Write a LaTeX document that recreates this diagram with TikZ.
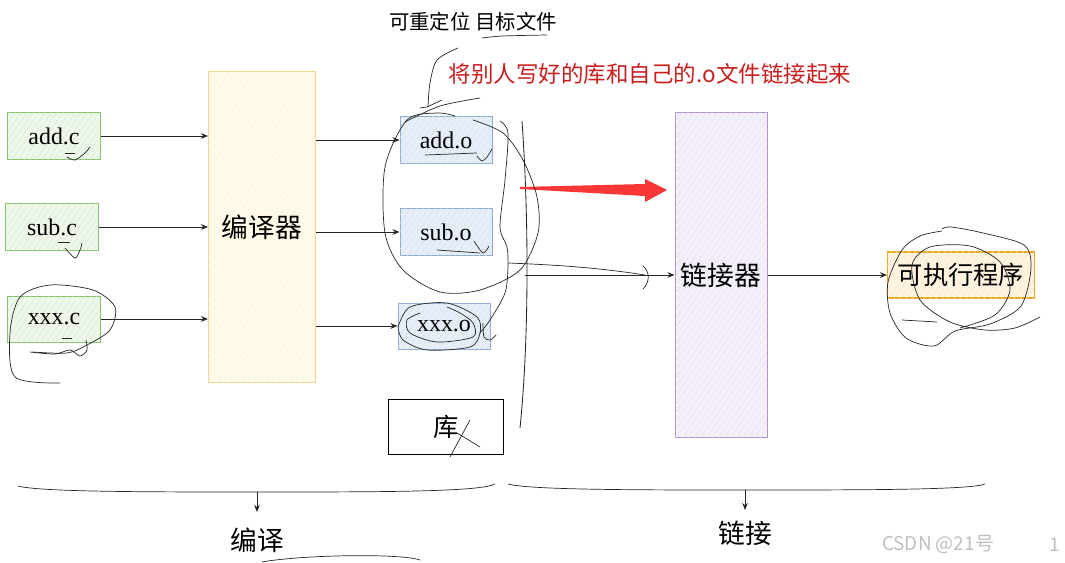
\documentclass[tikz,border=0pt]{standalone}
\usepackage{fontspec}
\setmainfont{Liberation Serif}
\newfontfamily\cjk{Noto Sans CJK SC}
\usetikzlibrary{arrows.meta}
\usetikzlibrary{patterns.meta}
\usetikzlibrary{positioning}

\definecolor{srcline}{RGB}{130,195,110}
\definecolor{srcfill}{RGB}{238,247,234}
\definecolor{compline}{RGB}{238,212,140}
\definecolor{compfill}{RGB}{255,251,232}
\definecolor{objline}{RGB}{140,170,212}
\definecolor{objfill}{RGB}{230,238,247}
\definecolor{linkline}{RGB}{175,145,205}
\definecolor{linkfill}{RGB}{244,240,249}
\definecolor{exeline}{RGB}{228,170,30}
\definecolor{exefill}{RGB}{255,243,225}
\definecolor{noteRed}{RGB}{200,30,30}
\definecolor{bigArrow}{RGB}{250,55,55}

\begin{document}
\begin{tikzpicture}[x=0.025cm, y=-0.025cm, >={Stealth[length=5pt,width=4pt]}]
    \tikzset{
        every node/.style={inner sep=0pt},
        hatch/.style={postaction={pattern={Lines[angle=55, distance=3.5pt, line width=0.3pt]}, pattern color=#1}},
        srcfile/.style={draw=srcline, fill=srcfill, hatch=srcline!35, line width=0.7pt, minimum width=2.3cm, minimum height=1.15cm, font=\fontsize{17}{17}\selectfont},
        objfile/.style={draw=objline, fill=objfill, hatch=objline!35, line width=0.7pt, minimum width=2.3cm, minimum height=1.15cm, font=\fontsize{17}{17}\selectfont},
        tool/.style={line width=0.7pt, font=\cjk\fontsize{19}{19}\selectfont},
        scribble/.style={black!85, line width=0.5pt},
        conn/.style={->, black!85, line width=0.6pt}
    }
    \useasboundingbox (0,0) rectangle (1065,563);

    % source files and compiler
    \foreach \name/\x/\y/\txt in {addc/54/136/add.c, subc/52/227/sub.c, xxxc/54/319/xxx.c} {
        \node [srcfile] (\name) at (\x,\y) {\txt};
    }
    \node [tool, draw=compline, fill=compfill, hatch=compline!30, minimum width=2.675cm, minimum height=7.75cm] (comp) at (262,227) {编译器};
    \foreach \name in {addc, subc, xxxc} {
        \draw [conn] (\name.east) -- (\name.east -| comp.west);
    }

    % object files and library
    \foreach \name/\x/\y/\txt in {addo/446/140/add.o, subo/446/232/sub.o, xxxo/444/326/xxx.o} {
        \node [objfile] (\name) at (\x,\y) {\txt};
        \draw [conn] (comp.east |- \name.west) -- (\name.west);
    }
    \node [draw=black, line width=0.7pt, minimum width=2.875cm, minimum height=1.375cm, font=\cjk\fontsize{18}{18}\selectfont] (lib) at (446,427) {库};

    % linker and executable
    \node [tool, draw=linkline, fill=linkfill, hatch=linkline!30, minimum width=2.3cm, minimum height=8.125cm] (link) at (721,275) {链接器};
    \node [draw=exeline, fill=exefill, hatch=exeline!25, line width=0.8pt, minimum width=3.675cm, minimum height=1.15cm, font=\cjk\fontsize{18}{18}\selectfont] (exe) at (961,275) {可执行程序};
    \draw [conn] (link.east) -- (exe.west);

    \draw [scribble, line width=0.6pt] (522,121) .. controls (529,220) and (529,340) .. (520,428);
    \coordinate (brk) at (525,275);
    \draw [conn] (brk) -- (link.west |- brk);
    \draw [scribble] (508,263) .. controls (560,265) and (600,268) .. (645,275);
    \draw [scribble] (643,266) .. controls (650,272) and (650,282) .. (643,289);
    \fill [bigArrow] (520,187) -- (645,184) -- (645,179) -- (667,190) -- (645,202) -- (645,196) -- (520,189) -- cycle;

    % notes
    \node [font=\cjk\fontsize{14.5}{14.5}\selectfont] (reloc) at (473,22) {可重定位 目标文件};
    \node [font=\cjk\fontsize{16}{16}\selectfont, text=noteRed] (note) at (650,74) {将别人写好的库和自己的.o文件链接起来};

    % bottom braces
    \coordinate (bl) at (257,492);
    \coordinate (br) at (745,490);
    \draw [scribble] (18,486) .. controls (40,492) and (150,492) .. (bl) .. controls (380,492) and (480,492) .. (495,484);
    \draw [scribble] (508,484) .. controls (530,490) and (640,490) .. (br) .. controls (860,490) and (970,490) .. (985,484);
    \node [font=\cjk\fontsize{19}{19}\selectfont] (bianyi) at (257,540) {编译};
    \node [font=\cjk\fontsize{19}{19}\selectfont] (lianjie) at (745,533) {链接};
    \draw [conn] (bl) -- ++(0,20);
    \draw [conn] (br) -- ++(0,20);
    \draw [scribble] (262,562) .. controls (300,555) and (400,553) .. (420,560);

    \node [font=\cjk\fontsize{13.5}{13.5}\selectfont, text=black!25] (mark) at (938,545) {CSDN @21号};
    \node [font=\cjk\fontsize{13.5}{13.5}\selectfont, text=black!25] (pagenum) at (1055,545) {1};

    % hand drawn marks
    \draw [scribble] (65,153) -- (75,153);
    \draw [scribble] plot [smooth] coordinates {(67,157) (75,160) (85,153) (90,147)};
    \draw [scribble] (58,242) -- (70,242);
    \draw [scribble] plot [smooth] coordinates {(65,248) (75,258) (80,250) (82,243)};
    \draw [scribble] (62,338) -- (72,338);
    \draw [scribble] plot [smooth] coordinates {(60,383) (15,377) (10,333) (20,297) (50,285) (93,290) (115,307) (110,330) (87,345) (67,353) (33,352)};
    \draw [scribble] plot [smooth] coordinates {(30,352) (55,354) (70,350) (80,356) (87,350) (86,340)};

    \draw [scribble] (425,155) -- (477,153);
    \draw [scribble] plot [smooth] coordinates {(477,156) (482,161) (487,157) (492,149)};
    \draw [scribble] (437,250) -- (480,253);
    \draw [scribble] plot [smooth] coordinates {(474,241) (483,253) (489,246)};
    \draw [scribble] plot [smooth] coordinates {(455,116) (437,113) (407,120) (385,167) (385,233) (403,270) (440,292) (480,290) (520,270) (538,233) (537,197) (523,160) (503,133) (473,120)};
    \draw [scribble] plot [smooth] coordinates {(500,121) (508,133) (505,180) (500,227) (507,247) (508,267) (505,293) (490,320) (480,333)};
    \draw [scribble] plot [smooth] coordinates {(398,327) (410,307) (447,303) (477,317) (480,333) (470,347) (427,350) (403,340) (398,327)};
    \draw [scribble] plot [smooth] coordinates {(420,313) (407,320) (410,333) (437,342) (473,337) (473,323) (460,313) (447,307)};
    \draw [scribble] plot [smooth] coordinates {(483,323) (484,337) (490,340) (496,335)};

    \draw [scribble] plot [smooth] coordinates {(458,48) (437,60) (430,83) (428,107)};
    \draw [scribble] (420,108) -- (427,107) -- (442,100);
    \draw [scribble] plot [smooth] coordinates {(480,98) (440,106) (405,122)};
    \draw [scribble] plot [smooth] coordinates {(482,38) (503,36) (547,35)};

    \draw [scribble] (470,420) -- (450,457);
    \draw [scribble] (457,433) -- (480,447);

    \draw [scribble] plot [smooth] coordinates {(942,229) (951,227) (983,233) (1024,245) (1031,268) (1021,306) (990,324) (955,331) (934,346) (906,338) (890,313) (888,282) (902,250) (920,236) (942,231)};
    \draw [scribble] plot [smooth] coordinates {(902,320) (937,322)};
    \draw [scribble] plot [smooth] coordinates {(1040,317) (1015,328) (985,330) (950,322) (920,300) (912,265) (930,247) (970,246) (1000,262) (1010,290) (995,315) (960,328)};
\end{tikzpicture}
\end{document}
